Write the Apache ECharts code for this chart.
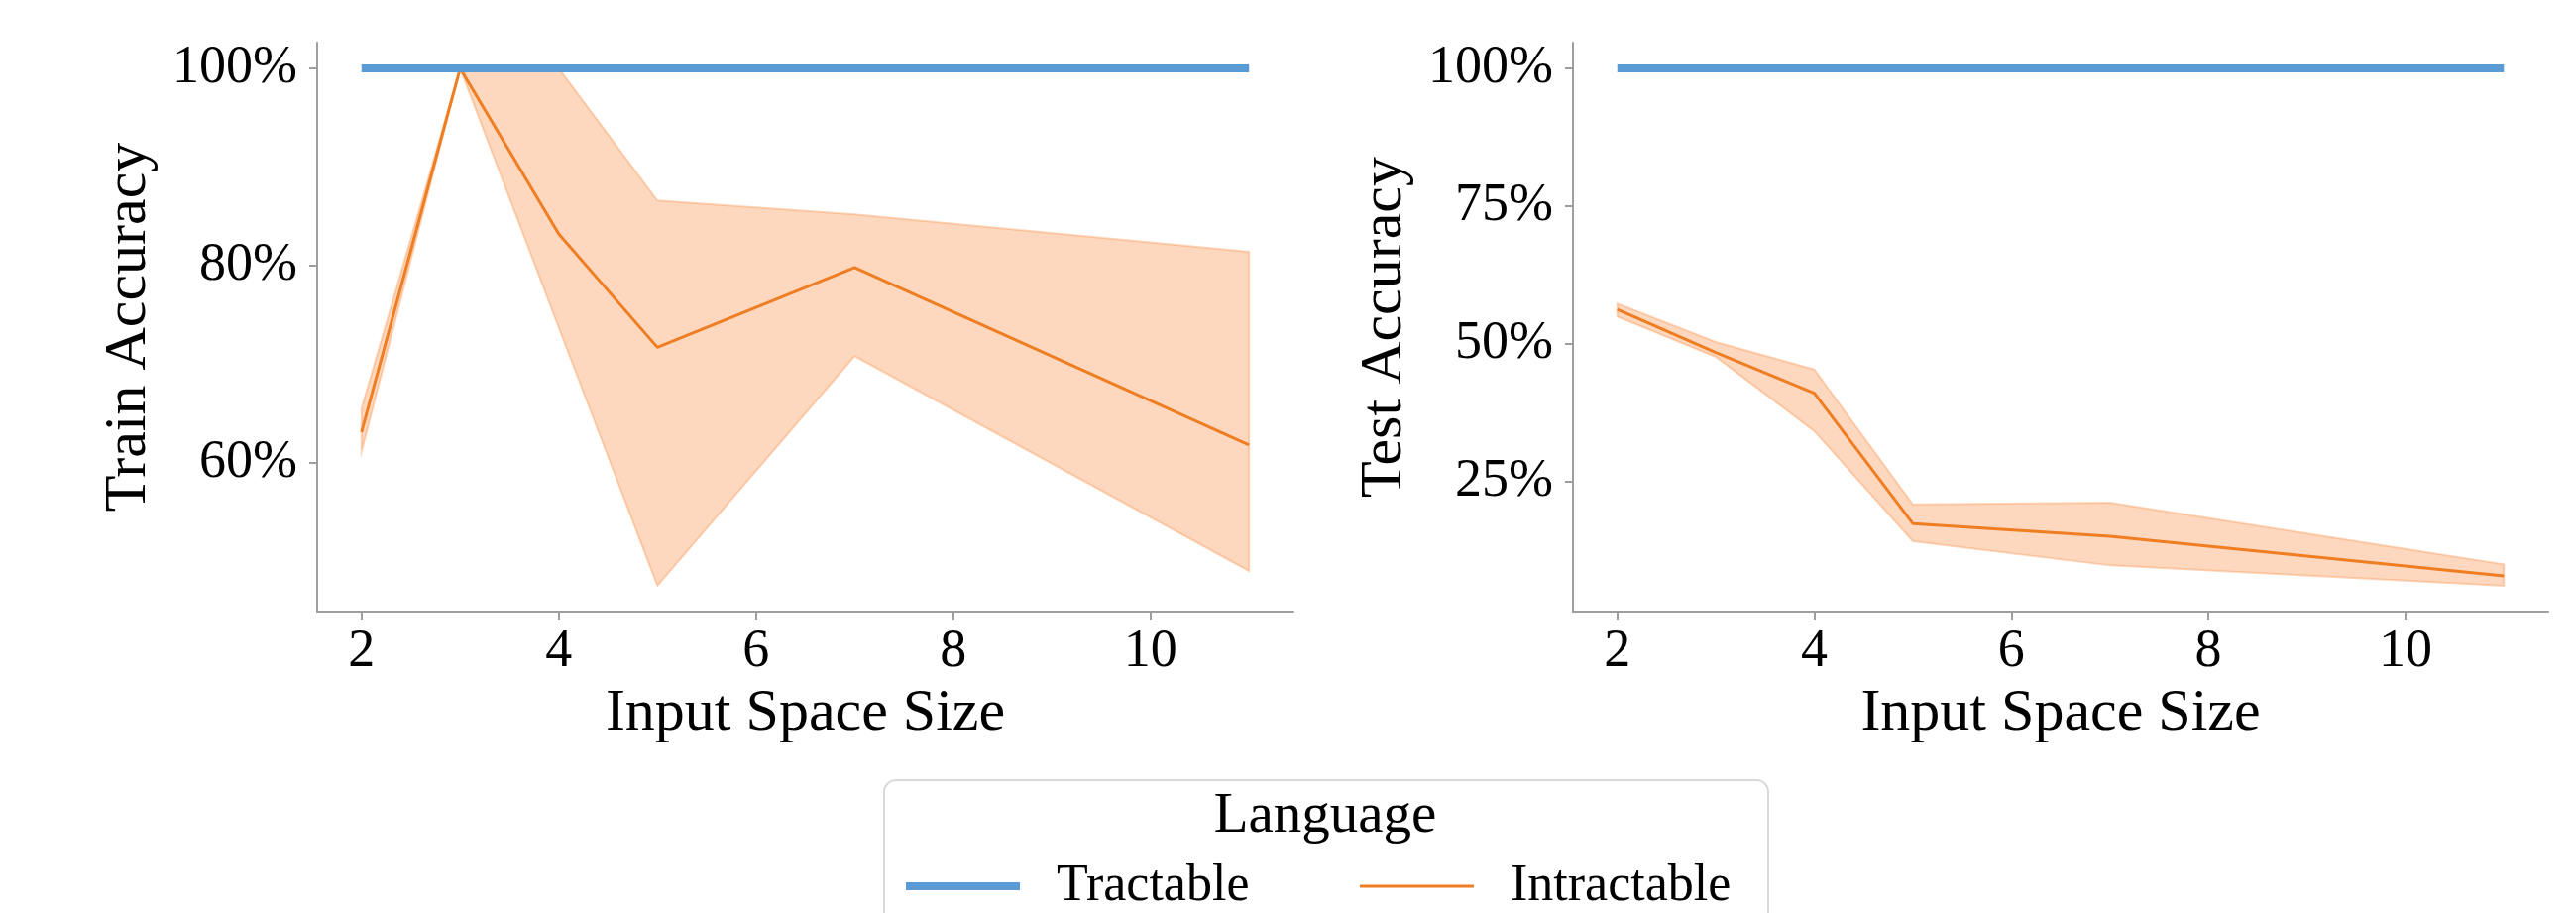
<!DOCTYPE html>
<html>
<head>
<meta charset="utf-8">
<script src="https://cdn.jsdelivr.net/npm/echarts@6/dist/echarts.min.js"></script>
<style>
  html, body { margin: 0; padding: 0; background: #fff; }
  #chart { width: 2599px; height: 921px; }
</style>
</head>
<body>
<div id="chart"></div>
<script>
// x positions (input space size)
const xs = [2, 3, 4, 5, 7, 11];
const xTicks = [2, 4, 6, 8, 10];

// train accuracy (%)
const trainTractable = [100, 100, 100, 100, 100, 100];
const trainMean = [63.1, 100, 83.2, 71.7, 79.8, 61.8];
const trainLow = [61.1, 100, 73.7, 47.5, 70.8, 49.0];
const trainHigh = [65.5, 100, 100, 86.6, 85.2, 81.4];
const trainTicks = [60, 80, 100];

// test accuracy (%)
const testTractable = [100, 100, 100, 100, 100, 100];
const testMean = [56.2, 48.4, 41.0, 17.3, 15.0, 7.8];
const testLow = [54.9, 47.6, 34.1, 14.1, 9.7, 6.0];
const testHigh = [57.3, 50.3, 45.3, 20.8, 21.1, 9.9];
const testTicks = [25, 50, 75, 100];

const FONT = 'Liberation Serif';
const BLUE = '#5b9bd5';
const ORANGE = '#ef7d22';
const BAND = 'rgba(248,125,42,0.3)';
const AXIS = '#9e9e9e';

// matplotlib style 5% margins
function pad(lo, hi) {
  const m = (hi - lo) * 0.05;
  return [lo - m, hi + m];
}
const xLim = pad(Math.min(...xs), Math.max(...xs));
const trainLim = pad(Math.min(...trainLow, ...trainMean), Math.max(...trainHigh, ...trainTractable));
const testLim = pad(Math.min(...testLow, ...testMean), Math.max(...testHigh, ...testTractable));

const pairs = (ys) => xs.map((x, i) => [x, ys[i]]);

function xAxisFor(idx) {
  return {
    type: 'value', gridIndex: idx, min: xLim[0], max: xLim[1],
    name: 'Input Space Size', nameLocation: 'middle', nameGap: 62,
    nameTextStyle: { fontFamily: FONT, fontSize: 60, color: '#000' },
    axisLine: { show: true, onZero: false, lineStyle: { color: AXIS, width: 2 } },
    axisTick: { show: true, length: 8, customValues: xTicks, lineStyle: { color: AXIS, width: 2 } },
    axisLabel: { customValues: xTicks, margin: 14, fontFamily: FONT, fontSize: 54, color: '#000' },
    splitLine: { show: false }
  };
}

function yAxisFor(idx, lim, ticks, name) {
  return {
    type: 'value', gridIndex: idx, min: lim[0], max: lim[1],
    name: name, nameLocation: 'middle', nameGap: 160,
    nameTextStyle: { fontFamily: FONT, fontSize: 60, color: '#000' },
    axisLine: { show: true, onZero: false, lineStyle: { color: AXIS, width: 2 } },
    axisTick: { show: true, length: 8, customValues: ticks, lineStyle: { color: AXIS, width: 2 } },
    axisLabel: {
      customValues: ticks, margin: 20, fontFamily: FONT, fontSize: 54, color: '#000',
      formatter: v => v + '%'
    },
    splitLine: { show: false }
  };
}

// confidence band drawn as one polygon through the axis scales
function bandSeries(idx, low, high) {
  return {
    type: 'custom', name: 'band' + idx, xAxisIndex: idx, yAxisIndex: idx,
    silent: true, z: 2,
    encode: { x: 0, y: [1, 2] },
    data: xs.map((x, i) => [x, low[i], high[i]]),
    renderItem: (params, api) => {
      if (params.dataIndex !== 0) return null;
      const n = params.dataInsideLength;
      const top = [], bottom = [];
      for (let i = 0; i < n; i++) {
        top.push(api.coord([api.value(0, i), api.value(2, i)]));
        bottom.push(api.coord([api.value(0, i), api.value(1, i)]));
      }
      return {
        type: 'polygon',
        shape: { points: top.concat(bottom.reverse()) },
        style: { fill: BAND, stroke: BAND, lineWidth: 2 }
      };
    }
  };
}

function lineSeries(idx, name, ys, color, width, z) {
  return {
    type: 'line', name: name, xAxisIndex: idx, yAxisIndex: idx,
    data: pairs(ys), symbol: 'none', showSymbol: false, z: z,
    lineStyle: { color: color, width: width }, itemStyle: { color: color },
    animation: false
  };
}

const chart = echarts.init(document.getElementById('chart'));
chart.setOption({
  animation: false,
  backgroundColor: '#fff',
  grid: [
    { left: 320, top: 43, width: 985, height: 574, containLabel: false, outerBoundsMode: 'none' },
    { left: 1587, top: 43, width: 984, height: 574, containLabel: false, outerBoundsMode: 'none' }
  ],
  xAxis: [xAxisFor(0), xAxisFor(1)],
  yAxis: [
    yAxisFor(0, trainLim, trainTicks, 'Train Accuracy'),
    yAxisFor(1, testLim, testTicks, 'Test Accuracy')
  ],
  title: {
    text: 'Language', left: 1337, top: 796, textAlign: 'center', padding: 0,
    textStyle: { fontFamily: FONT, fontSize: 57, fontWeight: 'normal', color: '#000' }
  },
  graphic: [{
    type: 'rect', left: 891, top: 786, z: 0,
    shape: { width: 892, height: 200, r: 12 },
    style: { fill: '#fff', stroke: '#d9d9d9', lineWidth: 2 }
  }],
  legend: {
    left: 910, top: 864, padding: 0, itemGap: 110,
    itemWidth: 115, itemHeight: 10,
    itemStyle: { opacity: 0, borderWidth: 0 },
    data: [
      { name: 'Tractable', itemStyle: { opacity: 0 }, lineStyle: { width: 8, color: BLUE } },
      { name: 'Intractable', itemStyle: { opacity: 0 }, lineStyle: { width: 3, color: ORANGE } }
    ],
    formatter: name => '{g|}' + name,
    textStyle: {
      fontFamily: FONT, fontSize: 52, color: '#000', lineHeight: 60,
      rich: { g: { width: 32 } }
    }
  },
  series: [
    bandSeries(0, trainLow, trainHigh),
    lineSeries(0, 'Intractable', trainMean, ORANGE, 3, 3),
    lineSeries(0, 'Tractable', trainTractable, BLUE, 8, 4),
    bandSeries(1, testLow, testHigh),
    lineSeries(1, 'Intractable', testMean, ORANGE, 3, 3),
    lineSeries(1, 'Tractable', testTractable, BLUE, 8, 4)
  ]
});
</script>
</body>
</html>
